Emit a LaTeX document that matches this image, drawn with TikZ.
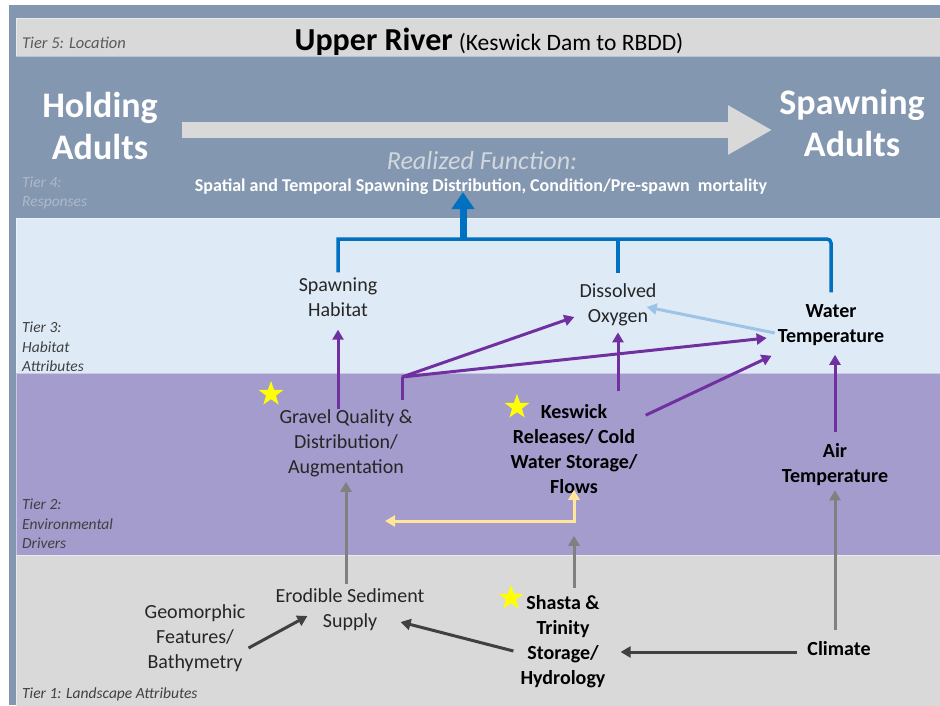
\documentclass[tikz,border=0pt]{standalone}
\usepackage{fontspec}
\setmainfont{Carlito}
\usetikzlibrary{
  arrows.meta,
  shapes.geometric,
  calc
}
\usepackage{xcolor}
\definecolor{frameBlue}{rgb}{0.5176,0.5922,0.6902}
\definecolor{barGray}{rgb}{0.8510,0.8510,0.8510}
\definecolor{habitatBlue}{rgb}{0.8706,0.9216,0.9686}
\definecolor{driverPurple}{rgb}{0.6392,0.6118,0.8000}
\definecolor{darkText}{rgb}{0.1490,0.1490,0.1490}
\definecolor{tierDark}{rgb}{0.2510,0.2510,0.2510}
\definecolor{tierMid}{rgb}{0.3490,0.3490,0.3490}
\definecolor{tierLight}{rgb}{0.6784,0.7255,0.7922}
\definecolor{realizedGray}{rgb}{0.8235,0.8431,0.8706}
\definecolor{fnBlue}{rgb}{0,0.4392,0.7529}
\definecolor{linkPurple}{rgb}{0.4392,0.1882,0.6275}
\definecolor{linkLightBlue}{rgb}{0.6157,0.7647,0.9020}
\definecolor{linkYellow}{rgb}{1,0.9020,0.6000}
\definecolor{linkGray}{rgb}{0.5020,0.5020,0.5020}
\definecolor{linkDark}{rgb}{0.2510,0.2510,0.2510}
\definecolor{starYellow}{rgb}{1,1,0}
\tikzset{
  band/.style={
    draw=white,
    draw opacity=0.45,
    line width=1pt
  },
  tierLabel/.style={
    font=\fontsize{15.5}{19.5}\selectfont\itshape,
    text=tierDark,
    align=left,
    anchor=west,
    inner sep=0pt
  }
}
\tikzset{
  attr/.style={
    font=\fontsize{20}{25}\selectfont,
    text=darkText,
    align=center,
    inner sep=0pt
  },
  attrBold/.style={
    attr,
    font=\fontsize{20}{25}\selectfont\bfseries,
    text=black
  },
  stage/.style={
    font=\fontsize{36}{42}\selectfont\bfseries,
    text=white,
    align=center,
    inner sep=0pt
  },
  starMark/.style={
    star,
    star points=5,
    star point ratio=2.5,
    fill=starYellow,
    minimum size=26pt,
    inner sep=0pt
  }
}
\tikzset{
  purpleArrow/.style={draw=linkPurple, line width=3pt, ->},
  grayArrow/.style={draw=linkGray, line width=3pt, ->},
  darkArrow/.style={draw=linkDark, line width=3pt, ->},
  fnLine/.style={draw=fnBlue, line width=3.5pt}
}

\begin{document}
\begin{tikzpicture}[x=1pt, y=-1pt, >={Triangle[length=10pt,width=11pt]}]
  \useasboundingbox (0,0) rectangle (940,705);
  \fill[white] (0,0) rectangle (940,705);
  \fill[frameBlue] (9,5) rectangle (940,705);
  \filldraw[band, fill=barGray] (16,18) rectangle (941,56);
  \filldraw[band, fill=habitatBlue] (16,218) rectangle (941,373);
  \filldraw[band, fill=driverPurple] (16,373) rectangle (941,555);
  \filldraw[band, fill=barGray] (16,555) rectangle (941,706);

  \node[tierLabel, text=tierMid, font=\fontsize{16.5}{20}\selectfont\itshape] (tierFive) at (22,43) {Tier 5: Location};
  \node[tierLabel, text=tierLight] (tierFour) at (22,193) {Tier 4:\\Responses};
  \node[tierLabel] (tierThree) at (22,347) {Tier 3:\\Habitat\\Attributes};
  \node[tierLabel] (tierTwo) at (22,524) {Tier 2:\\Environmental\\Drivers};
  \node[tierLabel] (tierOne) at (22,694) {Tier 1: Landscape Attributes};

  \node[inner sep=0pt, text=black] (location) at (489,42)
    {{\fontsize{32}{36}\selectfont\bfseries Upper River}\hspace{6pt}\fontsize{23.5}{26}\selectfont(Keswick Dam to RBDD)};

  \node[stage] (holding) at (100,126) {Holding\\Adults};
  \node[stage] (spawning) at (852,123) {Spawning\\Adults};
  \node[inner sep=0pt, text=realizedGray, font=\fontsize{26}{30}\selectfont\itshape] (realized) at (482,161) {Realized Function:};
  \node[inner sep=0pt, text=white, font=\fontsize{18}{21}\selectfont\bfseries] (spatial) at (481,187)
    {Spatial and Temporal Spawning Distribution, Condition/Pre-spawn\ \ mortality};

  \node[attr] (sphab) at (338,297) {Spawning\\Habitat};
  \node[attr] (dox) at (618,305) {Dissolved\\Oxygen};
  \node[attrBold] (wtemp) at (831,325) {Water\\Temperature};
  \node[attr] (gravel) at (346,443) {Gravel Quality \&\\Distribution/\\Augmentation};
  \node[attrBold] (keswick) at (574,449) {Keswick\\Releases/ Cold\\Water Storage/\\Flows};
  \node[attrBold] (airtemp) at (835,465) {Air\\Temperature};
  \node[attr] (sediment) at (350,610) {Erodible Sediment\\Supply};
  \node[attr] (geomorph) at (195,638) {Geomorphic\\Features/\\Bathymetry};
  \node[attrBold] (shasta) at (563,642) {Shasta \&\\Trinity\\Storage/\\Hydrology};
  \node[attrBold] (climate) at (839,649) {Climate};

  \node[starMark] (starGravel) at (271,394) {};
  \node[starMark] (starKeswick) at (517,407) {};
  \node[starMark] (starShasta) at (511,598) {};

  \draw[draw=barGray, line width=16pt, -{Triangle[length=44pt,width=46pt]},
    shorten <=24pt, shorten >=7pt]
    (holding.east |- 0,130) -- (spawning.west |- 0,130);

  \coordinate (fnBase) at (463,239);
  \draw[fnLine] ([yshift=5pt]sphab.north) |- (fnBase)
    [rounded corners=4pt] -| ([yshift=12pt]wtemp.north);
  \draw[fnLine] ([yshift=11pt]dox.north) -- (dox.north |- fnBase);
  \draw[draw=fnBlue, line width=7pt, -{Triangle[length=17pt,width=22pt]}, shorten >=-3pt]
    (fnBase) -- (fnBase |- spatial.south);

  \coordinate (fork) at (402,377);
  \draw[purpleArrow, shorten >=13pt] (gravel.north -| sphab) -- (sphab.south);
  \draw[draw=linkPurple, line width=3pt, shorten <=9pt] (gravel.north -| fork) -- (fork);
  \draw[purpleArrow] (fork) -- ([shift={(-5,12)}]dox.west);
  \draw[purpleArrow] (fork) -- ([shift={(-11,13)}]wtemp.west);
  \draw[purpleArrow, shorten <=13pt, shorten >=6pt] (keswick.north -| dox) -- (dox.south);
  \draw[purpleArrow] ([shift={(8,11)}]keswick.north east) -- ([shift={(-6,10)}]wtemp.south west);
  \draw[purpleArrow, shorten <=12pt, shorten >=9pt] (airtemp.north) -- (airtemp.north |- wtemp.south);

  \draw[draw=linkLightBlue, line width=3pt, ->]
    ([shift={(-3,8)}]wtemp.west) -- ([shift={(-10,2)}]dox.east);

  \coordinate (gravelLink) at (385,521);
  \draw[draw=linkYellow, line width=3pt, <->, shorten >=-4pt] (gravelLink) -| (keswick.south);

  \draw[grayArrow, shorten <=5pt, shorten >=5pt] (sediment.north -| gravel) -- (gravel.south);
  \draw[grayArrow, shorten <=8pt, shorten >=42pt] (shasta.north -| keswick) -- (keswick.south);
  \draw[grayArrow, shorten <=12pt, shorten >=4pt] (climate.north -| airtemp) -- (airtemp.south);

  \draw[darkArrow] ([shift={(3,10)}]geomorph.east) -- ([shift={(32,6)}]sediment.west);
  \draw[darkArrow] ([shift={(-7,9)}]shasta.west) -- ([shift={(-24,12)}]sediment.east);
  \draw[darkArrow] ([shift={(-10,3)}]climate.west) -- ([shift={(15,10)}]shasta.east);
\end{tikzpicture}
\end{document}
